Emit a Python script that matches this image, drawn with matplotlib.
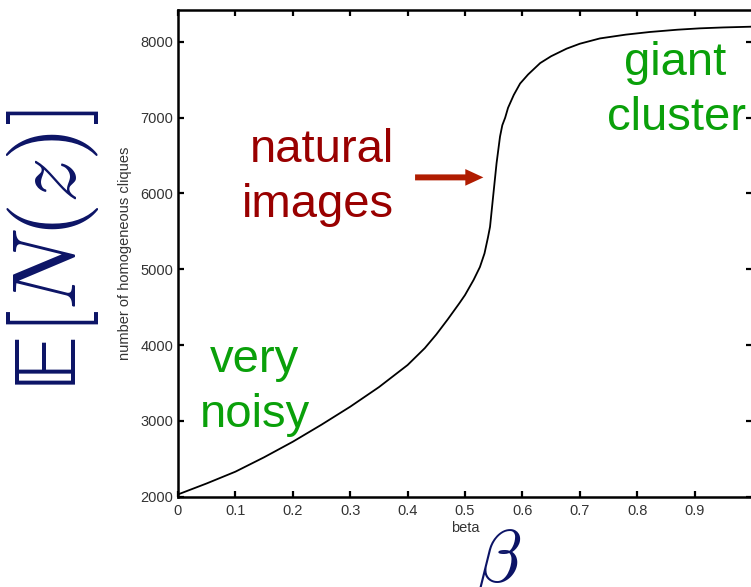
import matplotlib
matplotlib.use('Agg')
import matplotlib.pyplot as plt

# curve
beta = [0.0, 0.05, 0.1, 0.15, 0.2, 0.25, 0.3, 0.35, 0.4, 0.43, 0.45, 0.47, 0.49,
        0.5, 0.515, 0.526, 0.534, 0.54, 0.5436, 0.549, 0.555, 0.561, 0.565, 0.57,
        0.575, 0.585, 0.596, 0.61, 0.631, 0.65, 0.677, 0.7, 0.735, 0.78,
        0.822, 0.87, 0.909, 0.95, 1.0]
cliques = [2030, 2175, 2330, 2520, 2725, 2950, 3187, 3445, 3737, 3960, 4140, 4340, 4550,
           4660, 4860, 5030, 5210, 5420, 5560, 5960, 6400, 6750, 6900, 7000,
           7130, 7300, 7450, 7570, 7720, 7810, 7910, 7975, 8045, 8095,
           8130, 8160, 8178, 8190, 8200]

xticks = [0, 0.1, 0.2, 0.3, 0.4, 0.5, 0.6, 0.7, 0.8, 0.9]
xticklabels = ['0', '0.1', '0.2', '0.3', '0.4', '0.5', '0.6', '0.7', '0.8', '0.9']
yticks = [2000, 3000, 4000, 5000, 6000, 7000, 8000]

GREEN = '#0aa00a'
DARKRED = '#990000'
ARROW = '#b01c00'
NAVY = '#0c1466'

plt.rcParams['font.family'] = ['Liberation Sans', 'DejaVu Sans']
plt.rcParams['mathtext.fontset'] = 'cm'

fig = plt.figure(figsize=(7.51, 5.87), dpi=100)
ax = fig.add_axes([178 / 751, 90.3 / 587, 574 / 751, 486.7 / 587])

ax.plot(beta, cliques, color='black', linewidth=1.3)

ax.set_xlim(0, 1)
ax.set_ylim(2000, 8420)
ax.set_xticks(xticks)
ax.set_xticklabels(xticklabels)
ax.set_yticks(yticks)
ax.tick_params(direction='in', top=True, right=True, length=4, width=1.6,
               labelsize=10.5, labelcolor='#333333')
ax.tick_params(axis='x', pad=5)
ax.tick_params(axis='y', pad=3.5)
for s in ax.spines.values():
    s.set_linewidth(1.8)

ax.set_xlabel('beta', fontsize=10.5, color='#333333')
ax.xaxis.set_label_coords(0.5, -0.05)
ax.set_ylabel('number of homogeneous cliques', fontsize=10.5, color='#333333')
ax.yaxis.set_label_coords(-0.081, 0.5)

# annotations
ax.text(0.134, 3644, 'very', color=GREEN, fontsize=34, ha='center', va='baseline')
ax.text(0.134, 2919, 'noisy', color=GREEN, fontsize=34, ha='center', va='baseline')
ax.text(0.376, 6418, 'natural', color=DARKRED, fontsize=34, ha='right', va='baseline')
ax.text(0.376, 5692, 'images', color=DARKRED, fontsize=34, ha='right', va='baseline')
ax.text(0.866, 7561, 'giant', color=GREEN, fontsize=34, ha='center', va='baseline')
ax.text(0.869, 6836, 'cluster', color=GREEN, fontsize=34, ha='center', va='baseline')

ax.annotate('', xy=(0.532, 6212), xytext=(0.413, 6212),
            arrowprops=dict(arrowstyle='simple,head_length=1.3,head_width=1.2,tail_width=0.43',
                            mutation_scale=10, color=ARROW, lw=0,
                            shrinkA=0, shrinkB=0))

# big math labels
fig.text(53 / 751, 1 - 250 / 587, r'$\mathrm{\mathbb{E}}[N(z)]$', rotation=90,
         color=NAVY, fontsize=65, ha='center', va='center')
fig.text(498 / 751, 1 - 582 / 587, r'$\beta$', color=NAVY, fontsize=54,
         ha='center', va='baseline')

fig.savefig('out.png', dpi=100)
